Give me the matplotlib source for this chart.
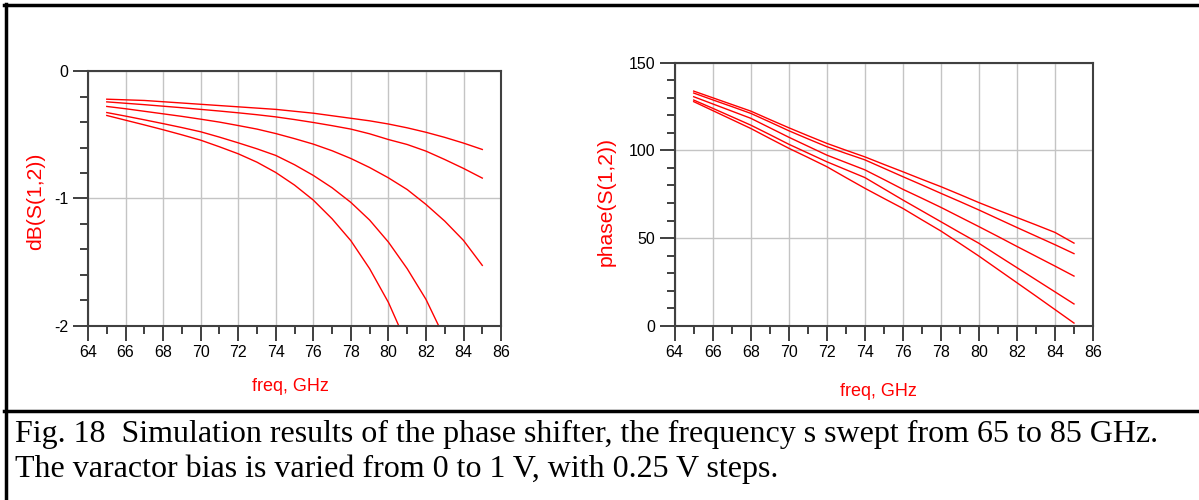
import matplotlib
matplotlib.use("Agg")
import matplotlib.pyplot as plt
import numpy as np
from matplotlib.ticker import MultipleLocator

freq = np.arange(65, 86)

# dB(S(1,2)) for the five varactor biases
db_1 = [-0.22, -0.225, -0.23, -0.24, -0.25, -0.26, -0.27, -0.28, -0.29, -0.30, -0.315,
        -0.33, -0.35, -0.37, -0.39, -0.415, -0.445, -0.48, -0.52, -0.565, -0.615]
db_2 = [-0.241, -0.252, -0.263, -0.275, -0.287, -0.30, -0.313, -0.327, -0.342, -0.359, -0.38,
        -0.403, -0.428, -0.455, -0.492, -0.537, -0.576, -0.628, -0.694, -0.764, -0.84]
db_3 = [-0.277, -0.295, -0.315, -0.335, -0.355, -0.377, -0.40, -0.427, -0.455, -0.49, -0.53,
        -0.573, -0.625, -0.686, -0.757, -0.838, -0.93, -1.047, -1.178, -1.33, -1.526]
db_4 = [-0.325, -0.353, -0.382, -0.412, -0.443, -0.476, -0.518, -0.563, -0.61, -0.662, -0.735,
        -0.819, -0.916, -1.031, -1.17, -1.343, -1.552, -1.793, -2.1, -2.45, -2.85]
db_5 = [-0.348, -0.385, -0.422, -0.46, -0.5, -0.542, -0.594, -0.649, -0.715, -0.796, -0.895,
        -1.013, -1.16, -1.332, -1.552, -1.817, -2.15, -2.55, -3.0, -3.5, -4.1]

# phase(S(1,2)) in degrees
ph_1 = [133.8, 130.0, 126.2, 122.4, 117.6, 112.9, 108.4, 104.0, 100.1, 96.3, 92.0,
        87.8, 83.5, 79.3, 74.8, 70.2, 65.9, 61.7, 57.5, 53.2, 47.1]
ph_2 = [132.7, 128.8, 125.0, 121.1, 116.2, 111.2, 106.6, 102.1, 98.3, 94.6, 89.8,
        85.0, 80.3, 75.5, 70.8, 66.0, 61.0, 56.0, 51.1, 46.2, 41.1]
ph_3 = [130.6, 126.5, 122.4, 118.3, 112.9, 107.5, 102.4, 97.3, 93.1, 88.9, 83.4,
        77.8, 72.7, 67.5, 62.0, 56.5, 50.9, 45.2, 39.6, 34.0, 28.3]
ph_4 = [128.7, 124.0, 119.2, 114.4, 109.0, 103.5, 98.5, 93.5, 89.0, 84.5, 78.1,
        71.7, 65.5, 59.3, 53.1, 47.0, 40.0, 33.1, 26.2, 19.3, 12.4]
ph_5 = [127.8, 122.7, 117.6, 112.5, 106.8, 101.2, 96.0, 90.7, 84.5, 78.4, 72.6,
        66.9, 60.4, 54.0, 46.9, 39.7, 32.1, 24.5, 16.9, 9.2, 1.5]

caption = ["Fig. 18  Simulation results of the phase shifter, the frequency s swept from 65 to 85 GHz.",
           "The varactor bias is varied from 0 to 1 V, with 0.25 V steps."]

plt.rcParams['font.family'] = ['Liberation Sans', 'DejaVu Sans']
plt.rcParams['axes.unicode_minus'] = False

fig = plt.figure(figsize=(11.99, 5.0), dpi=100)


def style(ax):
    ax.set_xlim(64, 86)
    ax.xaxis.set_major_locator(MultipleLocator(2))
    ax.xaxis.set_minor_locator(MultipleLocator(1))
    ax.grid(True, which='major', color='#c4c4c4', lw=1.0)
    ax.set_axisbelow(True)
    for s in ax.spines.values():
        s.set_color('#404040')
        s.set_linewidth(1.5)
    ax.tick_params(which='major', direction='out', length=11, width=1.3,
                   color='#303030', labelsize=11.5, pad=3)
    ax.tick_params(which='minor', direction='out', length=6, width=1.3, color='#303030')
    ax.set_xlabel("freq, GHz", color='red', fontsize=13, va='center')


ax1 = fig.add_axes([0.0734, 0.3486, 0.3445, 0.509])
for d in [db_1, db_2, db_3, db_4, db_5]:
    ax1.plot(freq, d, color='red', lw=1.0)
style(ax1)
ax1.set_ylim(-2, 0)
ax1.yaxis.set_major_locator(MultipleLocator(1))
ax1.yaxis.set_minor_locator(MultipleLocator(0.2))
ax1.set_ylabel("dB(S(1,2))", color='red', fontsize=15.2, va='center')
ax1.yaxis.set_label_coords(-0.128, 0.488)
ax1.xaxis.set_label_coords(0.49, -0.237)

ax2 = fig.add_axes([0.5627, 0.3486, 0.3489, 0.526])
for p in [ph_1, ph_2, ph_3, ph_4, ph_5]:
    ax2.plot(freq, p, color='red', lw=1.0)
style(ax2)
ax2.set_ylim(0, 150)
ax2.yaxis.set_major_locator(MultipleLocator(50))
ax2.yaxis.set_minor_locator(MultipleLocator(10))
ax2.set_ylabel("phase(S(1,2))", color='red', fontsize=15.2, va='center')
ax2.yaxis.set_label_coords(-0.1626, 0.474)
ax2.xaxis.set_label_coords(0.488, -0.251)

# frame lines of the figure box
fig.add_artist(plt.Line2D([5.5 / 1199, 5.5 / 1199], [0, 1 - 4 / 500], color='black', lw=2.5))
fig.add_artist(plt.Line2D([4 / 1199, 1], [1 - 5 / 500, 1 - 5 / 500], color='black', lw=2.5))
fig.add_artist(plt.Line2D([4 / 1199, 1], [1 - 410.5 / 500, 1 - 410.5 / 500], color='black', lw=2.5))

fig.text(15 / 1199, 1 - 442 / 500, caption[0], family='Liberation Serif', fontsize=23,
         va='baseline', ha='left')
fig.text(15 / 1199, 1 - 477 / 500, caption[1], family='Liberation Serif', fontsize=23,
         va='baseline', ha='left')

fig.savefig("out.png", dpi=100)
